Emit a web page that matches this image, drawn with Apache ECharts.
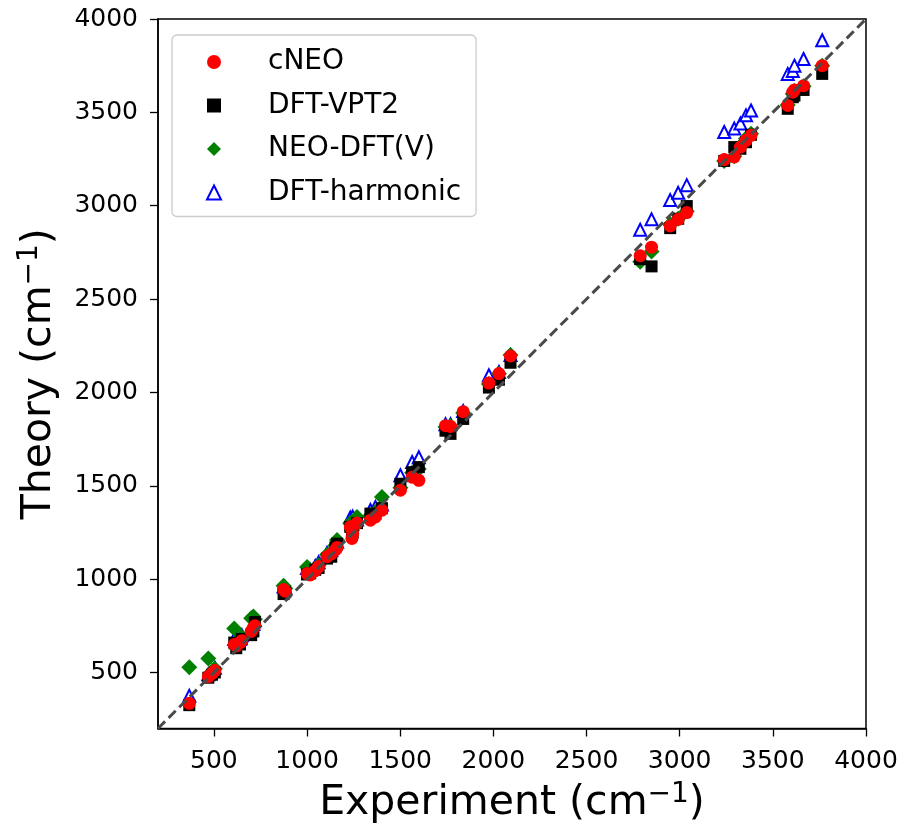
<!DOCTYPE html>
<html>
<head>
<meta charset="utf-8">
<script src="https://cdn.jsdelivr.net/npm/echarts@6/dist/echarts.min.js"></script>
<style>
  html, body { margin: 0; padding: 0; background: #fff; }
  #main { width: 902px; height: 829px; }
</style>
</head>
<body>
<div id="main"></div>
<script>
// experimental frequencies (cm-1), one entry per vibrational mode
var experiment = [368, 470, 490, 505, 609, 620, 640, 650, 700, 712, 720, 874, 883,
  1000, 1017, 1044, 1062, 1107, 1130, 1152, 1161, 1232, 1241, 1245, 1268, 1340, 1367, 1402,
  1501, 1564, 1600, 1743, 1770, 1838, 1976, 2030, 2092, 2788, 2849, 2949, 2992, 3038,
  3239, 3293, 3326, 3356, 3383, 3580, 3607, 3616, 3665, 3765];
// theory values, same order as experiment
var cNEO = [335, 478, 495, 510, 650, 642, 660, 670, 720, 740, 750, 945, 935,
  1030, 1022, 1045, 1067, 1120, 1135, 1156, 1170, 1280, 1218, 1245, 1300, 1316, 1333, 1369,
  1476, 1546, 1529, 1822, 1818, 1897, 2050, 2101, 2195, 2732, 2778, 2892, 2927, 2963,
  3247, 3261, 3314, 3350, 3377, 3537, 3608, 3620, 3643, 3750];
var dftVpt2 = [325, 472, 488, 500, 660, 630, 650, 680, 700, 720, 770, 920, 930,
  1025, 1031, 1050, 1060, 1110, 1120, 1170, 1190, 1280, 1240, 1250, 1300, 1351, 1350, 1380,
  1511, 1573, 1600, 1795, 1778, 1858, 2026, 2068, 2159, 2714, 2675, 2880, 2930, 2998,
  3240, 3314, 3305, 3340, 3380, 3519, 3581, 3590, 3620, 3706];
var neoDftV = [528, 575, 505, 520, 735, 660, 680, 690, 790, 800, 785, 965, 950,
  1065, 1040, 1055, 1075, 1130, 1140, 1180, 1209, 1300, 1260, 1290, 1333, 1340, 1360, 1440,
  1490, 1570, 1590, 1815, 1820, 1890, 2045, 2100, 2200, 2700, 2755, 2900, 2930, 2970,
  3240, 3265, 3320, 3360, 3385, 3540, 3600, 3615, 3640, 3750];
var dftHarmonic = [375, 490, 510, 525, 680, 660, 680, 700, 740, 760, 780, 960, 955,
  1060, 1050, 1070, 1090, 1140, 1155, 1190, 1200, 1330, 1300, 1335, 1320, 1370, 1387, 1400,
  1556, 1627, 1653, 1830, 1830, 1900, 2092, 2110, 2200, 2871, 2927, 3030, 3069, 3110,
  3395, 3413, 3440, 3484, 3510, 3706, 3722, 3750, 3786, 3886];
var tickValues = [500, 1000, 1500, 2000, 2500, 3000, 3500, 4000];
var axisRange = [200, 4000];

function pairs(theory) {
  return experiment.map(function (x, i) { return [x, theory[i]]; });
}

var chart = echarts.init(document.getElementById('main'));
var font = 'DejaVu Sans';

function makeAxis(name, isY) {
  return {
    type: 'value',
    min: axisRange[0],
    max: axisRange[1],
    name: name,
    nameLocation: 'middle',
    nameGap: isY ? 96 : 52,
    nameRotate: isY ? 90 : 0,
    nameTextStyle: {
      fontFamily: font,
      rich: {
        a: { fontSize: 41, fontFamily: font, color: '#000' },
        s: { fontSize: 28, fontFamily: font, color: '#000', verticalAlign: 'top', padding: [0, 0, 18, 0] }
      }
    },
    axisLine: { show: true, lineStyle: { color: '#000', width: 1.5 } },
    axisTick: { show: true, length: 8, customValues: tickValues, lineStyle: { color: '#000', width: 1.3 } },
    axisLabel: {
      customValues: tickValues, fontFamily: font, fontSize: 25, color: '#000', margin: 20,
      formatter: function (v) { return String(v); }
    },
    splitLine: { show: false }
  };
}

var option = {
  animation: false,
  backgroundColor: '#fff',
  grid: {
    left: 158, right: 36, top: 19, bottom: 98,
    show: true, borderColor: '#000', borderWidth: 1.5
  },
  xAxis: makeAxis('{a|Experiment (cm}{s|−1}{a|)}', false),
  yAxis: makeAxis('{a|Theory (cm}{s|−1}{a|)}', true),
  legend: {
    data: ['cNEO', 'DFT-VPT2', 'NEO-DFT(V)', 'DFT-harmonic'],
    orient: 'vertical',
    left: 172,
    top: 35,
    padding: [13, 15, 10, 34],
    itemGap: 15.5,
    itemWidth: 14,
    itemHeight: 14,
    backgroundColor: '#fff',
    borderColor: '#cccccc',
    borderWidth: 1.3,
    borderRadius: 5,
    textStyle: { fontFamily: font, fontSize: 28, lineHeight: 28, color: '#000', padding: [0, 0, 0, 42] }
  },
  series: [
    {
      name: 'DFT-harmonic', type: 'scatter', symbol: 'triangle', symbolSize: 12,
      data: pairs(dftHarmonic),
      itemStyle: { color: '#fff', borderColor: '#0000ff', borderWidth: 2, opacity: 1 }
    },
    {
      name: 'NEO-DFT(V)', type: 'scatter', symbol: 'diamond', symbolSize: 16,
      data: pairs(neoDftV),
      itemStyle: { color: '#008000', opacity: 1 }
    },
    {
      name: 'DFT-VPT2', type: 'scatter', symbol: 'rect', symbolSize: 12,
      data: pairs(dftVpt2),
      itemStyle: { color: '#000', opacity: 1 }
    },
    {
      name: 'cNEO', type: 'scatter', symbol: 'circle', symbolSize: 13,
      data: pairs(cNEO),
      itemStyle: { color: '#ff0000', opacity: 1 }
    },
    {
      name: 'y=x', type: 'line', silent: true, symbol: 'none', z: 5,
      data: [[axisRange[0], axisRange[0]], [axisRange[1], axisRange[1]]],
      lineStyle: { color: '#4a4a4a', width: 3, type: [10, 5] }
    }
  ]
};
chart.setOption(option);
</script>
</body>
</html>
